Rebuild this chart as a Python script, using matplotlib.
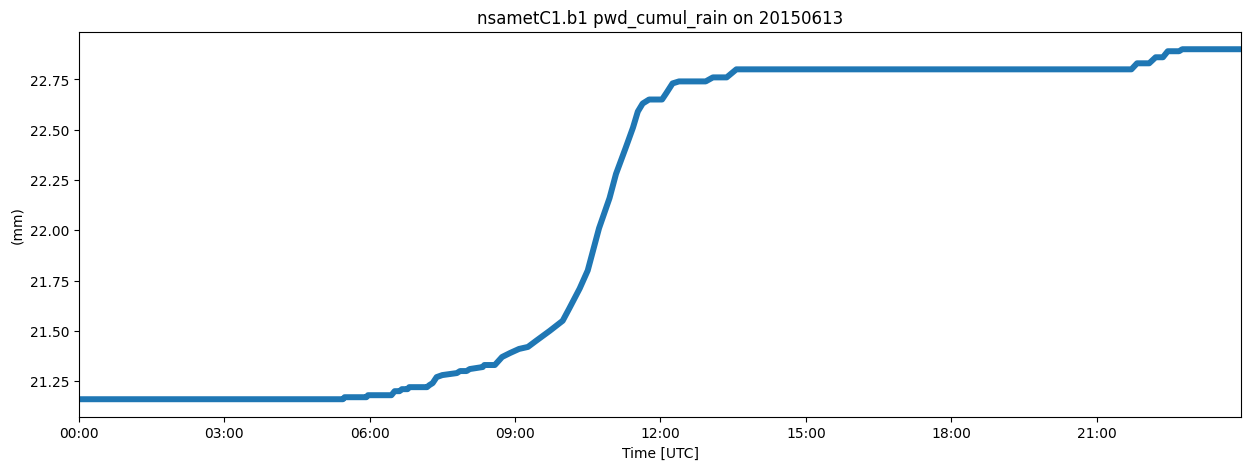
import numpy as np
import pandas as pd
import matplotlib
matplotlib.use("Agg")
import matplotlib.pyplot as plt
import matplotlib.dates as mdates

# Cumulative rain (mm) at the points where it changes
times = ["00:00", "05:27", "05:29", "05:56", "05:58", "06:27", "06:31", "06:37",
         "06:40", "06:47", "06:49", "07:11", "07:14", "07:18", "07:23", "07:30",
         "07:48", "07:52", "08:00", "08:04", "08:20", "08:22", "08:35", "08:44",
         "08:54", "09:05", "09:16", "09:26", "09:43", "09:59", "10:07", "10:20",
         "10:30", "10:38", "10:44", "10:57", "11:05", "11:17", "11:26", "11:32",
         "11:38", "11:46", "12:02", "12:07", "12:15", "12:23", "12:56", "13:05",
         "13:22", "13:34", "21:43", "21:50", "22:05", "22:13", "22:22", "22:28",
         "22:42", "22:46", "23:59"]
cumul_rain = [21.16, 21.16, 21.17, 21.17, 21.18, 21.18, 21.20, 21.20,
              21.21, 21.21, 21.22, 21.22, 21.23, 21.24, 21.27, 21.28,
              21.29, 21.30, 21.30, 21.31, 21.32, 21.33, 21.33, 21.37,
              21.39, 21.41, 21.42, 21.45, 21.50, 21.55, 21.61, 21.71,
              21.80, 21.92, 22.01, 22.16, 22.28, 22.41, 22.51, 22.59,
              22.63, 22.65, 22.65, 22.68, 22.73, 22.74, 22.74, 22.76,
              22.76, 22.80, 22.80, 22.83, 22.83, 22.86, 22.86, 22.89,
              22.89, 22.90, 22.90]

date = "2015-06-13"
t = pd.to_datetime([date + " " + s for s in times])

fig, ax = plt.subplots(figsize=(15, 5))
ax.plot(t, cumul_rain, '-', color='tab:blue', lw=4.3,
        solid_joinstyle='round', solid_capstyle='butt')

ax.set_xlim(t[0], t[-1])
ax.xaxis.set_major_locator(mdates.HourLocator(byhour=range(0, 24, 3)))
ax.xaxis.set_major_formatter(mdates.DateFormatter('%H:%M'))

ax.set_title('nsametC1.b1 pwd_cumul_rain on 20150613')
ax.set_xlabel('Time [UTC]')
ax.set_ylabel('(mm)')

fig.savefig('out.png', dpi=100, bbox_inches='tight')
